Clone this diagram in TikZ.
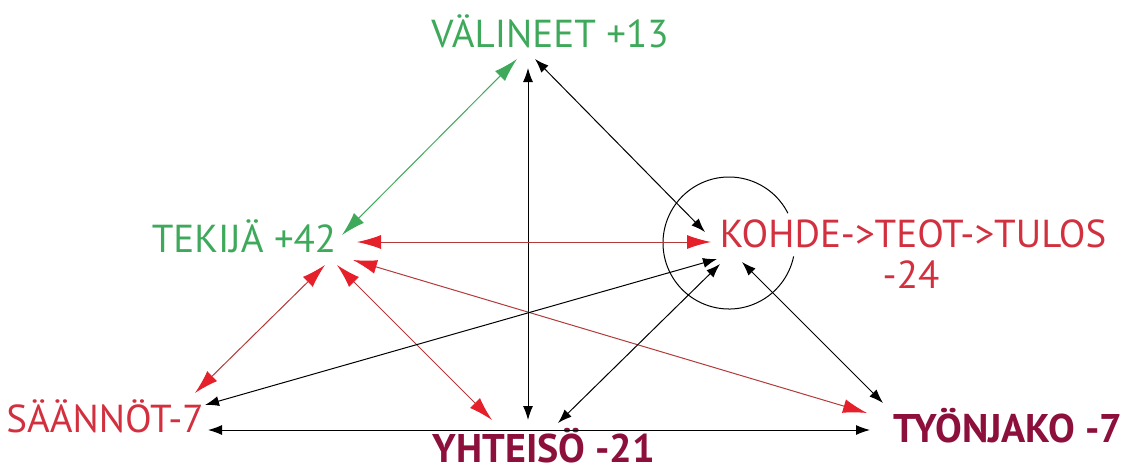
\documentclass[tikz,border=0pt]{standalone}
\usepackage{fontspec}
\setmainfont{PT Sans}
\usepackage{xcolor}
\usepackage{tikz}
\usetikzlibrary{arrows.meta}
\definecolor{leaf}{HTML}{3FA95B}
\definecolor{crim}{HTML}{D2303F}
\definecolor{wine}{HTML}{8C0F3C}
\definecolor{rdtip}{HTML}{E5202A}
\definecolor{rdline}{HTML}{B23A3A}
\tikzset{fig/.style={line join=round,line cap=round},
  lbl/.style={inner sep=0pt,anchor=base,font=\fontsize{19.5}{23}\selectfont},
  bld/.style={lbl,wine,font=\fontsize{20}{24}\selectfont\bfseries},
  blk/.style={<->,>={Latex[length=7pt,width=5pt]},black,line width=.5pt},
  rd/.style={<->,>={Latex[length=12pt,width=7pt,color=rdtip]},rdline,line width=.5pt},
  grn/.style={<->,>={Latex[length=12pt,width=7pt]},leaf,line width=.5pt}}

\begin{document}
\begin{tikzpicture}[fig,x=0.5pt,y=-0.5pt]
  \useasboundingbox(0,0)rectangle(1144,471);
  % labels
  \node[lbl,leaf](val)at(550,47){VÄLINEET +13};
  \node[lbl,leaf](tek)at(244,252){TEKIJÄ +42};
  \node[lbl,crim](koh)at(913,247){KOHDE->TEOT->TULOS};
  \node[lbl,crim](kohv)at(911,288){-24};
  \node[lbl,crim](saa)at(105,432){SÄÄNNÖT-7};
  \node[bld](yht)at(544,462){YHTEISÖ -21};
  \node[bld](tyo)at(1008,442){TYÖNJAKO -7};
  % circle round the object
  \draw[black,line width=.5pt]([shift={(-184,-4)}]koh.base)++(27:33pt)arc[start angle=27,end angle=348,radius=33pt];
  % connectors
  \draw[grn]([shift={(98,-17)}]tek.base)--([shift={(-33,12)}]val.base);
  \draw[blk]([shift={(-22,21)}]val.base)--([shift={(-16,-42)}]yht.base);
  \draw[blk]([shift={(-15,12)}]val.base)--([shift={(-208,-15)}]koh.base);
  \draw[rd]([shift={(113,-10)}]tek.base)--([shift={(-202,-5)}]koh.base);
  \draw[rd]([shift={(81,13)}]tek.base)--([shift={(90,-39)}]saa.base);
  \draw[rd]([shift={(93,13)}]tek.base)--([shift={(-52,-42)}]yht.base);
  \draw[rd]([shift={(109,8)}]tek.base)--([shift={(-141,-29)}]tyo.base);
  \draw[blk]([shift={(100,-27)}]saa.base)--([shift={(-196,12)}]koh.base);
  \draw[blk]([shift={(103,-2)}]saa.base)--([shift={(-138,-12)}]tyo.base);
  \draw[blk]([shift={(14,-39)}]yht.base)--([shift={(-193,17)}]koh.base);
  \draw[blk]([shift={(-171,15)}]koh.base)--([shift={(-125,-39)}]tyo.base);
\end{tikzpicture}
\end{document}
